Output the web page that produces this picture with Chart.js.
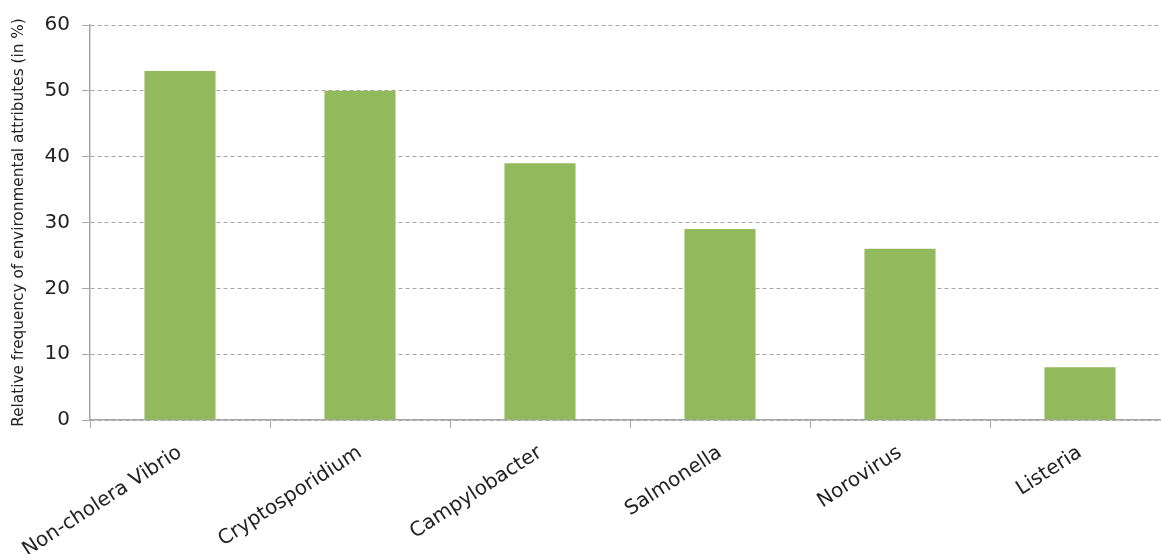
<!DOCTYPE html>
<html>
<head>
<meta charset="utf-8">
<script src="https://cdn.jsdelivr.net/npm/chart.js@4/dist/chart.umd.min.js"></script>
<style>
  html, body { margin: 0; padding: 0; background: #fff; overflow: hidden; }
  #wrap { width: 1176px; height: 554px; }
</style>
</head>
<body>
<div id="wrap"><canvas id="chart" width="1176" height="554"></canvas></div>
<script>
"use strict";

// ── 데이터 ──────────────────────────────────────────
const categories = ["Non-cholera Vibrio", "Cryptosporidium", "Campylobacter", "Salmonella", "Norovirus", "Listeria"];
const frequency  = [53, 50, 39, 29, 26, 8];
const yTicks     = [0, 10, 20, 30, 40, 50, 60];

const FONT = "'DejaVu Sans', Verdana, sans-serif";
const TEXT = "#222";
const GRID = "#a6a6a6";

const ctx = document.getElementById("chart").getContext("2d");

new Chart(ctx, {
  type: "bar",
  data: {
    labels: categories,
    datasets: [{
      data: frequency,
      backgroundColor: "#92ba5c",
      borderWidth: 0,
      barPercentage: 0.395,
      categoryPercentage: 1,
    }],
  },
  options: {
    responsive: false,
    animation: false,
    layout: { padding: { top: 25, right: 6, left: 4, bottom: 0 } },
    plugins: {
      legend: { display: false },
      tooltip: { enabled: false },
    },
    scales: {
      x: {
        offset: true,
        grid: {
          offset: true,
          drawOnChartArea: false,
          drawTicks: true,
          tickLength: 8,
          color: GRID,
        },
        border: { color: GRID, width: 1.5 },
        ticks: {
          color: TEXT,
          font: { family: FONT, size: 20 },
          minRotation: 33,
          maxRotation: 33,
          padding: 13,
        },
        afterFit(scale) { scale.height = 134; },
      },
      y: {
        min: 0,
        max: 60,
        afterBuildTicks(scale) { scale.ticks = yTicks.map(v => ({ value: v })); },
        grid: {
          color: GRID,
          tickLength: 8,
          lineWidth: 1,
        },
        border: { color: GRID, width: 1.5, dash: [4, 3] },
        ticks: {
          color: TEXT,
          font: { family: FONT, size: 20 },
          padding: 12,
        },
        title: {
          display: true,
          text: "Relative frequency of environmental attributes (in %)",
          color: TEXT,
          font: { family: FONT, size: 15.3 },
          padding: { top: 6, bottom: 8 },
        },
        afterFit(scale) { scale.width = 86; },
      },
    },
  },
});
</script>
</body>
</html>
